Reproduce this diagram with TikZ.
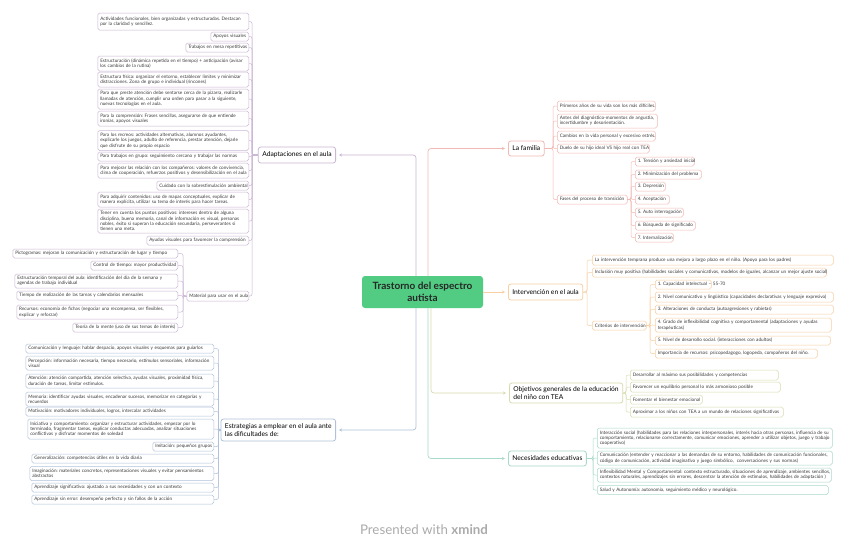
\documentclass[tikz,border=0pt]{standalone}
\usepackage{fontspec}
\setmainfont{Lato}
\frenchspacing
\usetikzlibrary{arrows.meta,calc}
\definecolor{pu}{HTML}{CBB6D6}
\definecolor{pk}{HTML}{F2B9B4}
\definecolor{og}{HTML}{F8CFA2}
\definecolor{ol}{HTML}{D8DBAE}
\definecolor{tl}{HTML}{A9D9CB}
\definecolor{bl}{HTML}{B0C1DA}
\definecolor{gr}{HTML}{52CC83}
\definecolor{txt}{HTML}{3A3A3A}
\definecolor{wm}{HTML}{ABABAB}
\newcommand\leaffont{\fontsize{4.65}{5.3}\selectfont}
\newcommand\brfont{\fontsize{6.7}{8}\selectfont}
\newcommand\mb[1]{\mbox{#1}}
\tikzset{
 leaf/.style={draw=#1, fill=white, rounded corners=1.8pt, line width=0.5pt, inner xsep=2.5pt, inner ysep=1pt, align=left, font=\leaffont, text=txt},
 br/.style={draw=#1, fill=white, rounded corners=2.5pt, line width=0.8pt, inner xsep=4pt, inner ysep=1pt, align=left, font=\brfont, text=black},
 cn/.style={draw=#1, line width=0.5pt, rounded corners=2pt},
 mn/.style={draw=#1, line width=0.7pt, rounded corners=3pt, -{Stealth[length=3pt,width=3pt]}, shorten >=3pt},
 tw/.style={text width=#1-5pt},
}
\begin{document}
\begin{tikzpicture}[x=1pt,y=-1pt]
\useasboundingbox (0,0) rectangle (848,552);
\fill[white] (0,0) rectangle (848,552);

% central
\node[fill=gr, rounded corners=3pt, minimum width=121pt, minimum height=32pt, align=center, font=\fontsize{10}{11.5}\selectfont\bfseries, text=black!85] (c) at (422.5,292) {Trastorno del espectro\\autista};

% branch nodes
\node[br=pu, anchor=east, minimum height=16pt] (adapt) at (336,155) {Adaptaciones en el aula};
\node[br=bl, anchor=east, minimum height=22pt] (estr) at (336,430) {Estrategias a emplear en el aula ante\\las dificultades de:};
\node[br=pk, anchor=west, minimum height=15pt] (fam) at (508,148.5) {La familia};
\node[br=og, anchor=west, minimum height=16pt] (interv) at (508,292) {Intervención en el aula};
\node[br=ol, anchor=west, minimum height=20pt] (obj) at (509,393) {Objetivos generales de la educación\\del niño con TEA};
\node[br=tl, anchor=west, minimum height=15pt] (nec) at (508,458.5) {Necesidades educativas};

% bracket coordinates
\coordinate (xa) at (416,0);
\coordinate (xf) at (428,0);
\coordinate (xo) at (431,0);
\coordinate (xn) at (428,0);
\coordinate (ba) at (252,0);
\coordinate (bm) at (183,0);
\coordinate (be) at (218.5,0);
\coordinate (bf) at (553,0);
\coordinate (bp) at (631,0);
\coordinate (bi) at (587,0);
\coordinate (bc) at (650,0);
\coordinate (bo) at (626,0);
\coordinate (bn) at (593,0);

% main connectors
\draw[mn=pu] (c.north -| xa) |- (adapt.east);
\draw[mn=pk] (c.north -| xf) |- (fam.west);
\draw[mn=og] (c.east) -- (interv.west);
\draw[mn=ol] (c.south -| xo) |- (obj.west);
\draw[mn=tl] (c.south -| xn) |- (nec.west);
\draw[mn=bl] (c.south -| xa) |- (estr.east);

% Adaptaciones children
\node[leaf=pu, tw=151pt, anchor=east, minimum height=17pt] (a1) at (249,21.5) {\mb{Actividades funcionales, bien organizadas y estructuradas. Destacan}\\\mb{por la claridad y sencillez.}};
\node[leaf=pu, tw=38pt, anchor=east, minimum height=9pt] (a2) at (249,36.5) {\mb{Apoyos visuales}};
\node[leaf=pu, tw=63pt, anchor=east, minimum height=9pt] (a3) at (249,47.5) {\mb{Trabajos en mesa repetitivos}};
\node[leaf=pu, tw=151pt, anchor=east, minimum height=15pt] (a4) at (249,63.5) {\mb{Estructuración (dinámica repetida en el tiempo) + anticipación (avisar}\\\mb{los cambios de la rutina)}};
\node[leaf=pu, tw=151pt, anchor=east, minimum height=15pt] (a5) at (249,79.5) {\mb{Estructura física: organizar el entorno, establecer límites y minimizar}\\\mb{distracciones. Zona de grupo e individual (rincones)}};
\node[leaf=pu, tw=151pt, anchor=east, minimum height=20pt] (a6) at (249,99) {\mb{Para que preste atención debe sentarse cerca de la pizarra, realizarle}\\\mb{llamadas de atención, cumplir una orden para pasar a la siguiente,}\\\mb{nuevas tecnologías en el aula.}};
\node[leaf=pu, tw=151pt, anchor=east, minimum height=15pt] (a7) at (249,118.5) {\mb{Para la comprensión: Frases sencillas, asegurarse de que entiende}\\\mb{ironías, apoyos visuales}};
\node[leaf=pu, tw=151pt, anchor=east, minimum height=20pt] (a8) at (249,140.5) {\mb{Para los recreos: actividades alternativas, alumnos ayudantes,}\\\mb{explicarle los juegos, adulto de referencia, prestar atención, dejarle}\\\mb{que disfrute de su propio espacio}};
\node[leaf=pu, tw=151pt, anchor=east, minimum height=9pt] (a9) at (249,156.5) {\mb{Para trabajos en grupo: seguimiento cercano y trabajar las normas}};
\node[leaf=pu, tw=151pt, anchor=east, minimum height=15pt] (a10) at (249,170.5) {\mb{Para mejorar las relación con los compañeros: valores de convivencia,}\\\mb{clima de cooperación, refuerzos positivos y desensibilización en el aula}};
\node[leaf=pu, tw=92pt, anchor=east, minimum height=9pt] (a11) at (249,185.5) {\mb{Cuidado con la sobrestimulación ambiental}};
\node[leaf=pu, tw=151pt, anchor=east, minimum height=15pt] (a12) at (249,199.5) {\mb{Para adquirir contenidos: uso de mapas conceptuales, explicar de}\\\mb{manera explícita, utilizar su tema de interés para hacer tareas.}};
\node[leaf=pu, tw=151pt, anchor=east, minimum height=24pt] (a13) at (249,221) {\mb{Tener en cuenta los puntos positivos: intereses dentro de alguna}\\\mb{disciplina, buena memoria, canal de información es visual, personas}\\\mb{nobles, éxito si superan la educación secundaria, perseverantes si}\\\mb{tienen una meta.}};
\node[leaf=pu, tw=102pt, anchor=east, minimum height=9pt] (a14) at (249,240.5) {\mb{Ayudas visuales para favorecer la comprensión}};
\node[leaf=pu, tw=62pt, anchor=east, minimum height=10pt] (mat) at (249,296) {\mb{Material para usar en el aula}};
\foreach \n in {a1,a2,a3,a4,a5,a6,a7,a8,a9,a10,a11,a12,a13,a14,mat}
  \draw[cn=pu] (adapt.west) -- (adapt.west -| ba) |- (\n.east);

% Material children
\node[leaf=pu, tw=165pt, anchor=east, minimum height=9pt] (m1) at (178,253.5) {\mb{Pictogramas: mejoran la comunicación y estructuración de lugar y tiempo}};
\node[leaf=pu, tw=87pt, anchor=east, minimum height=9pt] (m2) at (178,265.5) {\mb{Control de tiempo: mayor productividad}};
\node[leaf=pu, tw=163pt, anchor=east, minimum height=14pt] (m3) at (178,281) {\mb{Estructuración temporal del aula: identificación del día de la semana y}\\\mb{agendas de trabajo individual}};
\node[leaf=pu, tw=161pt, anchor=east, minimum height=9pt] (m4) at (178,295.5) {\mb{Tiempo de realización de las tareas y calendarios mensuales}};
\node[leaf=pu, tw=161pt, anchor=east, minimum height=14pt] (m5) at (178,312) {\mb{Recursos: economía de fichas (negociar una recompensa, ser flexibles,}\\\mb{explicar y reforzar)}};
\node[leaf=pu, tw=105pt, anchor=east, minimum height=9pt] (m6) at (178,327.5) {\mb{Teoría de la mente (uso de sus temas de interés)}};
\foreach \n in {m1,m2,m3,m4,m5,m6}
  \draw[cn=pu] (mat.west) -- (mat.west -| bm) |- (\n.east);

% Estrategias children
\node[leaf=bl, tw=188pt, anchor=east, minimum height=9pt] (e1) at (214,348.5) {\mb{Comunicación y lenguaje: hablar despacio, apoyos visuales y esquemas para guiarlos}};
\node[leaf=bl, tw=188pt, anchor=east, minimum height=14pt] (e2) at (214,363) {\mb{Percepción: información necesaria, tiempo necesario, estímulos sensoriales, información}\\\mb{visual}};
\node[leaf=bl, tw=188pt, anchor=east, minimum height=14pt] (e3) at (214,381) {\mb{Atención: atención compartida, atención selectiva, ayudas visuales, proximidad física,}\\\mb{duración de tareas, limitar estímulos.}};
\node[leaf=bl, tw=188pt, anchor=east, minimum height=14pt] (e4) at (214,399) {\mb{Memoria: identificar ayudas visuales, encadenar sucesos, memorizar en categorías y}\\\mb{recuerdos}};
\node[leaf=bl, tw=188pt, anchor=east, minimum height=9pt] (e5) at (214,411.5) {\mb{Motivación: motivadores individuales, logros, intercalar actividades}};
\node[leaf=bl, tw=186pt, anchor=east, minimum height=20pt] (e6) at (214,429) {\mb{Iniciativa y comportamiento: organizar y estructurar actividades, empezar por lo}\\\mb{terminado, fragmentar tareas, explicar conductas adecuadas, analizar situaciones}\\\mb{conflictivas y disfrutar momentos de soledad}};
\node[leaf=bl, tw=61pt, anchor=east, minimum height=9pt] (e7) at (214,446.5) {\mb{Imitación: pequeños grupos}};
\node[leaf=bl, tw=182pt, anchor=east, minimum height=9pt] (e8) at (214,458.5) {\mb{Generalización: competencias útiles en la vida diaria}};
\node[leaf=bl, tw=184pt, anchor=east, minimum height=14pt] (e9) at (214,473.5) {\mb{Imaginación: materiales concretos, representaciones visuales y evitar pensamientos}\\\mb{abstractos}};
\node[leaf=bl, tw=182pt, anchor=east, minimum height=9pt] (e10) at (214,487.5) {\mb{Aprendizaje significativo: ajustado a sus necesidades y con un contexto}};
\node[leaf=bl, tw=182pt, anchor=east, minimum height=9pt] (e11) at (214,499.5) {\mb{Aprendizaje sin error: desempeño perfecto y sin fallos de la acción}};
\foreach \n in {e1,e2,e3,e4,e5,e6,e7,e8,e9,e10,e11}
  \draw[cn=bl] (estr.west) -- (estr.west -| be) |- (\n.east);

% La familia children
\node[leaf=pk, tw=98pt, anchor=west, minimum height=10pt] (f1) at (557,106) {\mb{Primeros años de su vida son los más difíciles.}};
\node[leaf=pk, tw=100pt, anchor=west, minimum height=14pt] (f2) at (557,121) {\mb{Antes del diagnóstico-momentos de angustia,}\\\mb{incertidumbre y desorientación.}};
\node[leaf=pk, tw=98pt, anchor=west, minimum height=10pt] (f3) at (557,136) {\mb{Cambios en la vida personal y excesivo estrés.}};
\node[leaf=pk, tw=92pt, anchor=west, minimum height=9pt] (f4) at (557,148.5) {\mb{Duelo de su hijo ideal VS hijo real con TEA}};
\node[leaf=pk, tw=70pt, anchor=west, minimum height=9pt] (f5) at (557,199.5) {\mb{Fases del proceso de transición}};
\foreach \n in {f1,f2,f3,f4,f5}
  \draw[cn=pk] (fam.east) -- (fam.east -| bf) |- (\n.west);
\node[leaf=pk, tw=59pt, anchor=west, minimum height=9pt] (p1) at (635,161.5) {\mb{1. Tensión y ansiedad inicial}};
\node[leaf=pk, tw=66pt, anchor=west, minimum height=9pt] (p2) at (635,174.5) {\mb{2. Minimización del problema}};
\node[leaf=pk, tw=30pt, anchor=west, minimum height=9pt] (p3) at (635,186.5) {\mb{3. Depresión}};
\node[leaf=pk, tw=34pt, anchor=west, minimum height=9pt] (p4) at (635,199.5) {\mb{4. Aceptación}};
\node[leaf=pk, tw=48pt, anchor=west, minimum height=9pt] (p5) at (635,212.5) {\mb{5. Auto interrogación}};
\node[leaf=pk, tw=60pt, anchor=west, minimum height=9pt] (p6) at (635,225.5) {\mb{6. Búsqueda de significado}};
\node[leaf=pk, tw=38pt, anchor=west, minimum height=9pt] (p7) at (635,237.5) {\mb{7. Internalización}};
\foreach \n in {p1,p2,p3,p4,p5,p6,p7}
  \draw[cn=pk] (f5.east) -- (f5.east -| bp) |- (\n.west);

% Intervención children
\node[leaf=og, tw=241pt, anchor=west, minimum height=10pt] (i1) at (592,260) {\mb{La intervención temprana produce una mejora a largo plazo en el niño. (Apoyo para los padres)}};
\node[leaf=og, tw=234pt, anchor=west, minimum height=9pt] (i2) at (592,272.5) {\mb{Inclusión muy positiva (habilidades sociales y comunicativas, modelos de iguales, alcanzar un mejor ajuste social)}};
\node[leaf=og, tw=54pt, anchor=west, minimum height=9pt] (i3) at (592,325.5) {\mb{Criterios de intervención}};
\foreach \n in {i1,i2,i3}
  \draw[cn=og] (interv.east) -- (interv.east -| bi) |- (\n.west);
\node[leaf=og, tw=56pt, anchor=west, minimum height=9pt] (k1) at (655,284.5) {\mb{1. Capacidad intelectual – 55-70}};
\node[leaf=og, tw=178pt, anchor=west, minimum height=10pt] (k2) at (655,297) {\mb{2. Nivel comunicativo y lingüístico (capacidades declarativas y lenguaje expresivo)}};
\node[leaf=og, tw=178pt, anchor=west, minimum height=9pt] (k3) at (655,309.5) {\mb{3. Alteraciones de conducta (autoagresiones y rabietas)}};
\node[leaf=og, tw=176pt, anchor=west, minimum height=14pt] (k4) at (655,325) {\mb{4. Grado de inflexibilidad cognitiva y comportamental (adaptaciones y ayudas}\\\mb{terapéuticas)}};
\node[leaf=og, tw=175pt, anchor=west, minimum height=9pt] (k5) at (655,340.5) {\mb{5. Nivel de desarrollo social. (interacciones con adultos)}};
\node[leaf=og, tw=162pt, anchor=west, minimum height=9pt] (k6) at (655,353.5) {\mb{Importancia de recursos: psicopedagogo, logopeda, compañeros del niño.}};
\foreach \n in {k1,k2,k3,k4,k5,k6}
  \draw[cn=og] (i3.east) -- (i3.east -| bc) |- (\n.west);

% Objetivos children
\node[leaf=ol, tw=148pt, anchor=west, minimum height=10pt] (o1) at (630,375) {\mb{Desarrollar al máximo sus posibilidades y competencias}};
\node[leaf=ol, tw=150pt, anchor=west, minimum height=10pt] (o2) at (630,387) {\mb{Favorecer un equilibrio personal lo más armonioso posible}};
\node[leaf=ol, tw=72pt, anchor=west, minimum height=9pt] (o3) at (630,399.5) {\mb{Fomentar el bienestar emocional}};
\node[leaf=ol, tw=153pt, anchor=west, minimum height=10pt] (o4) at (630,412) {\mb{Aproximar a los niños con TEA a un mundo de relaciones significativas}};
\foreach \n in {o1,o2,o3,o4}
  \draw[cn=ol] (obj.east) -- (obj.east -| bo) |- (\n.west);

% Necesidades children
\node[leaf=tl, tw=235pt, anchor=west, minimum height=20pt] (n1) at (597,438) {\mb{Interacción social (habilidades para las relaciones interpersonales, interés hacia otras personas, influencia de su}\\\mb{comportamiento, relacionarse correctamente, comunicar emociones, aprender a utilizar objetos, juego y trabajo}\\\mb{cooperativo)}};
\node[leaf=tl, tw=235pt, anchor=west, minimum height=14pt] (n2) at (597,458) {\mb{Comunicación (entender y reaccionar a las demandas de su entorno, habilidades de comunicación funcionales,}\\\mb{código de comunicación, actividad imaginativa y juego simbólico,\ \ conversaciones y sus normas)}};
\node[leaf=tl, tw=234pt, anchor=west, minimum height=14pt] (n3) at (597,475) {\mb{Inflexibilidad Mental y Comportamental: contexto estructurado, situaciones de aprendizaje, ambientes sencillos,}\\\mb{contextos naturales, aprendizajes sin errores, descentrar la atención de estímulos, habilidades de adaptación )}};
\node[leaf=tl, tw=231pt, anchor=west, minimum height=9pt] (n4) at (597,490) {\mb{Salud y Autonomía: autonomía, seguimiento médico y neurológico.}};
\foreach \n in {n1,n2,n3,n4}
  \draw[cn=tl] (nec.east) -- (nec.east -| bn) |- (\n.west);

% watermark
\node[text=wm, font=\fontsize{13.3}{15}\selectfont, inner sep=0pt] (wmk) at (424,530) {Presented with \textbf{xmind}};
\end{tikzpicture}
\end{document}
